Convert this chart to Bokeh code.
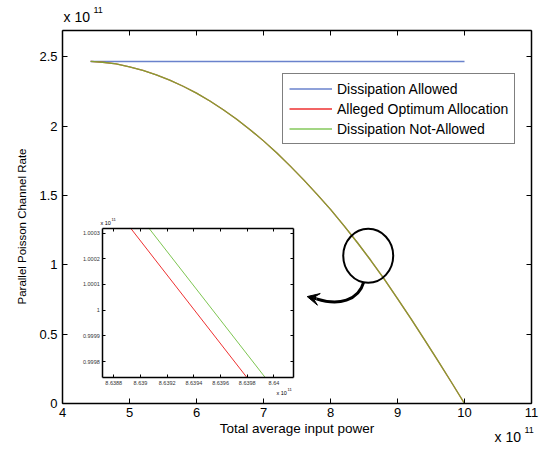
import math
from bokeh.plotting import figure
from bokeh.models import (Range1d, LinearAxis, FixedTicker, CustomJSTickFormatter,
                          Legend, LegendItem, Label, Arrow, VeeHead)
from bokeh.embed import file_html
from bokeh.resources import INLINE

FONT = "Liberation Sans"

# ---------------- data (units of 1e11) ----------------
allowed_power = [4.42, 10.0]
allowed_rate = [2.467, 2.467]

power = [4.42, 4.6, 4.8, 5.0, 5.2, 5.4, 5.6, 5.8, 6.0, 6.2, 6.4, 6.6, 6.8, 7.0, 7.2, 7.4,
         7.6, 7.8, 8.0, 8.2, 8.4, 8.6, 8.8, 9.0, 9.2, 9.4, 9.6, 9.8, 10.0]
rate_alleged = [2.467, 2.461, 2.449, 2.428, 2.402, 2.370, 2.332, 2.288, 2.238, 2.182, 2.119,
                2.050, 1.975, 1.894, 1.806, 1.712, 1.613, 1.508, 1.400, 1.283, 1.161, 1.033,
                0.898, 0.757, 0.612, 0.463, 0.311, 0.157, 0.0]
rate_not_allowed = [2.467, 2.461, 2.449, 2.428, 2.402, 2.370, 2.332, 2.288, 2.238, 2.182, 2.119,
                    2.050, 1.975, 1.894, 1.806, 1.712, 1.613, 1.508, 1.400, 1.283, 1.161, 1.033,
                    0.898, 0.757, 0.612, 0.463, 0.311, 0.157, 0.0]

x_ticks = [4, 5, 6, 7, 8, 9, 10, 11]
y_ticks = [0, 0.5, 1, 1.5, 2, 2.5]

# zoomed inset
inset_x_ticks = [8.6388, 8.639, 8.6392, 8.6394, 8.6396, 8.6398, 8.64]
inset_y_ticks = [0.9998, 0.9999, 1.0, 1.0001, 1.0002, 1.0003]
inset_power_alleged = [8.638925, 8.639799]
inset_rate_alleged = [1.00032, 0.999737]
inset_power_not = [8.639062, 8.639936]
inset_rate_not = [1.00032, 0.999737]

# zoom marker (circle + curved arrow), main-axis units
marker_x, marker_y, marker_w, marker_h = 8.563, 1.065, 0.746, 0.39
arrow_path = dict(x0=[8.497], y0=[0.877], cx0=[8.418], cy0=[0.740],
                  cx1=[8.119], cy1=[0.704], x1=[7.791], y1=[0.755])
arrow_tip = (7.652, 0.771)

# ---------------- layout parameters ----------------
X_RANGE = (4, 11)
Y_RANGE = (0, 2.69)
INSET_X = (8.638718, 8.640144)
INSET_Y = (0.999737, 1.000319)

CW, CH = 549, 450                      # canvas
PL, PR, PT, PB = 62, 531, 30, 403      # main axes box on canvas
IL, IR, IT, IB = 102.3, 292.7, 227.7, 377.3  # inset box on canvas

BLUE = "#6a82cc"
RED = "#ee3030"
GREEN = "#66bb33"

kx = (X_RANGE[1] - X_RANGE[0]) / (PR - PL)
ky = (Y_RANGE[1] - Y_RANGE[0]) / (PB - PT)
p = figure(width=CW, height=CH,
           x_range=Range1d(X_RANGE[0] - PL * kx, X_RANGE[1] + (CW - PR) * kx),
           y_range=Range1d(Y_RANGE[0] - (CH - PB) * ky, Y_RANGE[1] + PT * ky),
           x_axis_type=None, y_axis_type=None,
           output_backend="svg", toolbar_location=None, min_border=0)
p.grid.visible = False
p.outline_line_color = None
p.background_fill_color = "white"
p.border_fill_color = "white"

fmt = CustomJSTickFormatter(code="return tick.toString()")
blank = CustomJSTickFormatter(code="return ''")


def make_axis(ticks, loc, bounds, labels, size="13px", tick_in=5, width=1.5, color="black",
              standoff=4, **kw):
    ax = LinearAxis(fixed_location=loc, bounds=bounds, ticker=FixedTicker(ticks=ticks),
                    formatter=fmt if labels else blank, **kw)
    ax.major_tick_in = tick_in
    ax.major_tick_out = 0
    ax.minor_tick_line_color = None
    ax.axis_line_width = width
    ax.major_tick_line_width = 1
    ax.major_label_text_font = FONT
    ax.major_label_text_font_size = size
    ax.major_label_text_color = color
    ax.major_label_standoff = standoff
    return ax


xax = make_axis(x_ticks, Y_RANGE[0], X_RANGE, True, standoff=4)
xax.axis_label = "Total average input power"
xax.axis_label_text_font = FONT
xax.axis_label_text_font_style = "normal"
xax.axis_label_text_font_size = "13.5px"
xax.axis_label_text_color = "black"
xax.axis_label_standoff = 1
p.add_layout(xax, "below")

yax = make_axis(y_ticks, X_RANGE[0], Y_RANGE, True, standoff=5)
p.add_layout(yax, "left")

p.add_layout(make_axis(x_ticks, Y_RANGE[1], X_RANGE, False, standoff=0), "above")
p.add_layout(make_axis(y_ticks, X_RANGE[1], Y_RANGE, False, standoff=0), "right")

# ---------------- main curves ----------------
r_blue = p.line(allowed_power, allowed_rate, line_color=BLUE, line_width=1.5)
r_red = p.line(power, rate_alleged, line_color=RED, line_width=1.3)
r_green = p.line(power, rate_not_allowed, line_color=GREEN, line_width=1.3, line_alpha=0.8)

legend = Legend(items=[LegendItem(label="Dissipation Allowed", renderers=[r_blue]),
                       LegendItem(label="Alleged Optimum Allocation", renderers=[r_red]),
                       LegendItem(label="Dissipation Not-Allowed", renderers=[r_green])],
                location=(282, CH - 144))
legend.label_text_font = FONT
legend.label_text_font_size = "14px"
legend.label_text_color = "black"
legend.label_height = 17
legend.glyph_height = 17
legend.glyph_width = 43
legend.spacing = 3
legend.padding = 6
legend.margin = 0
legend.label_standoff = 5
legend.border_line_color = "black"
legend.border_line_width = 1
legend.background_fill_color = "white"
legend.background_fill_alpha = 1
p.add_layout(legend, "center")

# ---------------- inset (zoom) ----------------
ikx = (INSET_X[1] - INSET_X[0]) / (IR - IL)
iky = (INSET_Y[1] - INSET_Y[0]) / (IB - IT)
p.extra_x_ranges = {"ix": Range1d(INSET_X[0] - IL * ikx, INSET_X[1] + (CW - IR) * ikx)}
p.extra_y_ranges = {"iy": Range1d(INSET_Y[0] - (CH - IB) * iky, INSET_Y[1] + IT * iky)}

inset_kw = dict(size="5.5px", tick_in=3, color="#333333", standoff=3,
                x_range_name="ix", y_range_name="iy")
p.add_layout(make_axis(inset_x_ticks, INSET_Y[0], INSET_X, True, **inset_kw), "below")
p.add_layout(make_axis(inset_x_ticks, INSET_Y[1], INSET_X, False, **inset_kw), "above")
p.add_layout(make_axis(inset_y_ticks, INSET_X[0], INSET_Y, True, **inset_kw), "left")
p.add_layout(make_axis(inset_y_ticks, INSET_X[1], INSET_Y, False, **inset_kw), "right")

p.line(inset_power_alleged, inset_rate_alleged, x_range_name="ix", y_range_name="iy",
       line_color=RED, line_width=1)
p.line(inset_power_not, inset_rate_not, x_range_name="ix", y_range_name="iy",
       line_color=GREEN, line_width=1, line_alpha=0.85)

# ---------------- zoom marker ----------------
p.ellipse(x=[marker_x], y=[marker_y], width=[marker_w], height=[marker_h],
          fill_color=None, line_color="black", line_width=2)
p.bezier(line_color="black", line_width=3, **arrow_path)
p.add_layout(Arrow(end=VeeHead(size=12, fill_color="black", line_color="black"),
                   x_start=arrow_path["x1"][0], y_start=arrow_path["y1"][0],
                   x_end=arrow_tip[0], y_end=arrow_tip[1],
                   line_color="black", line_width=3))


# ---------------- texts placed on the canvas ----------------
def canvas_label(px, py, text, size, align="left", angle=0.0):
    lab = Label(x=px, y=CH - py, x_units="screen", y_units="screen", text=text,
                text_font=FONT, text_font_size=size, text_baseline="middle",
                text_align=align, text_color="black", angle=angle)
    p.add_layout(lab)


canvas_label(21.5, 226, "Parallel Poisson Channel Rate", "11.5px", align="center",
             angle=math.pi / 2)
canvas_label(63, 16, "x 10", "14px")
canvas_label(93, 9, "11", "9px")
canvas_label(494, 436, "x 10", "14px")
canvas_label(524, 429, "11", "9px")
canvas_label(100, 222, "x 10", "5.5px")
canvas_label(111, 219, "11", "4px")
canvas_label(276, 392, "x 10", "5.5px")
canvas_label(287, 389, "11", "4px")

open("out.html", "w").write(file_html(p, INLINE))
